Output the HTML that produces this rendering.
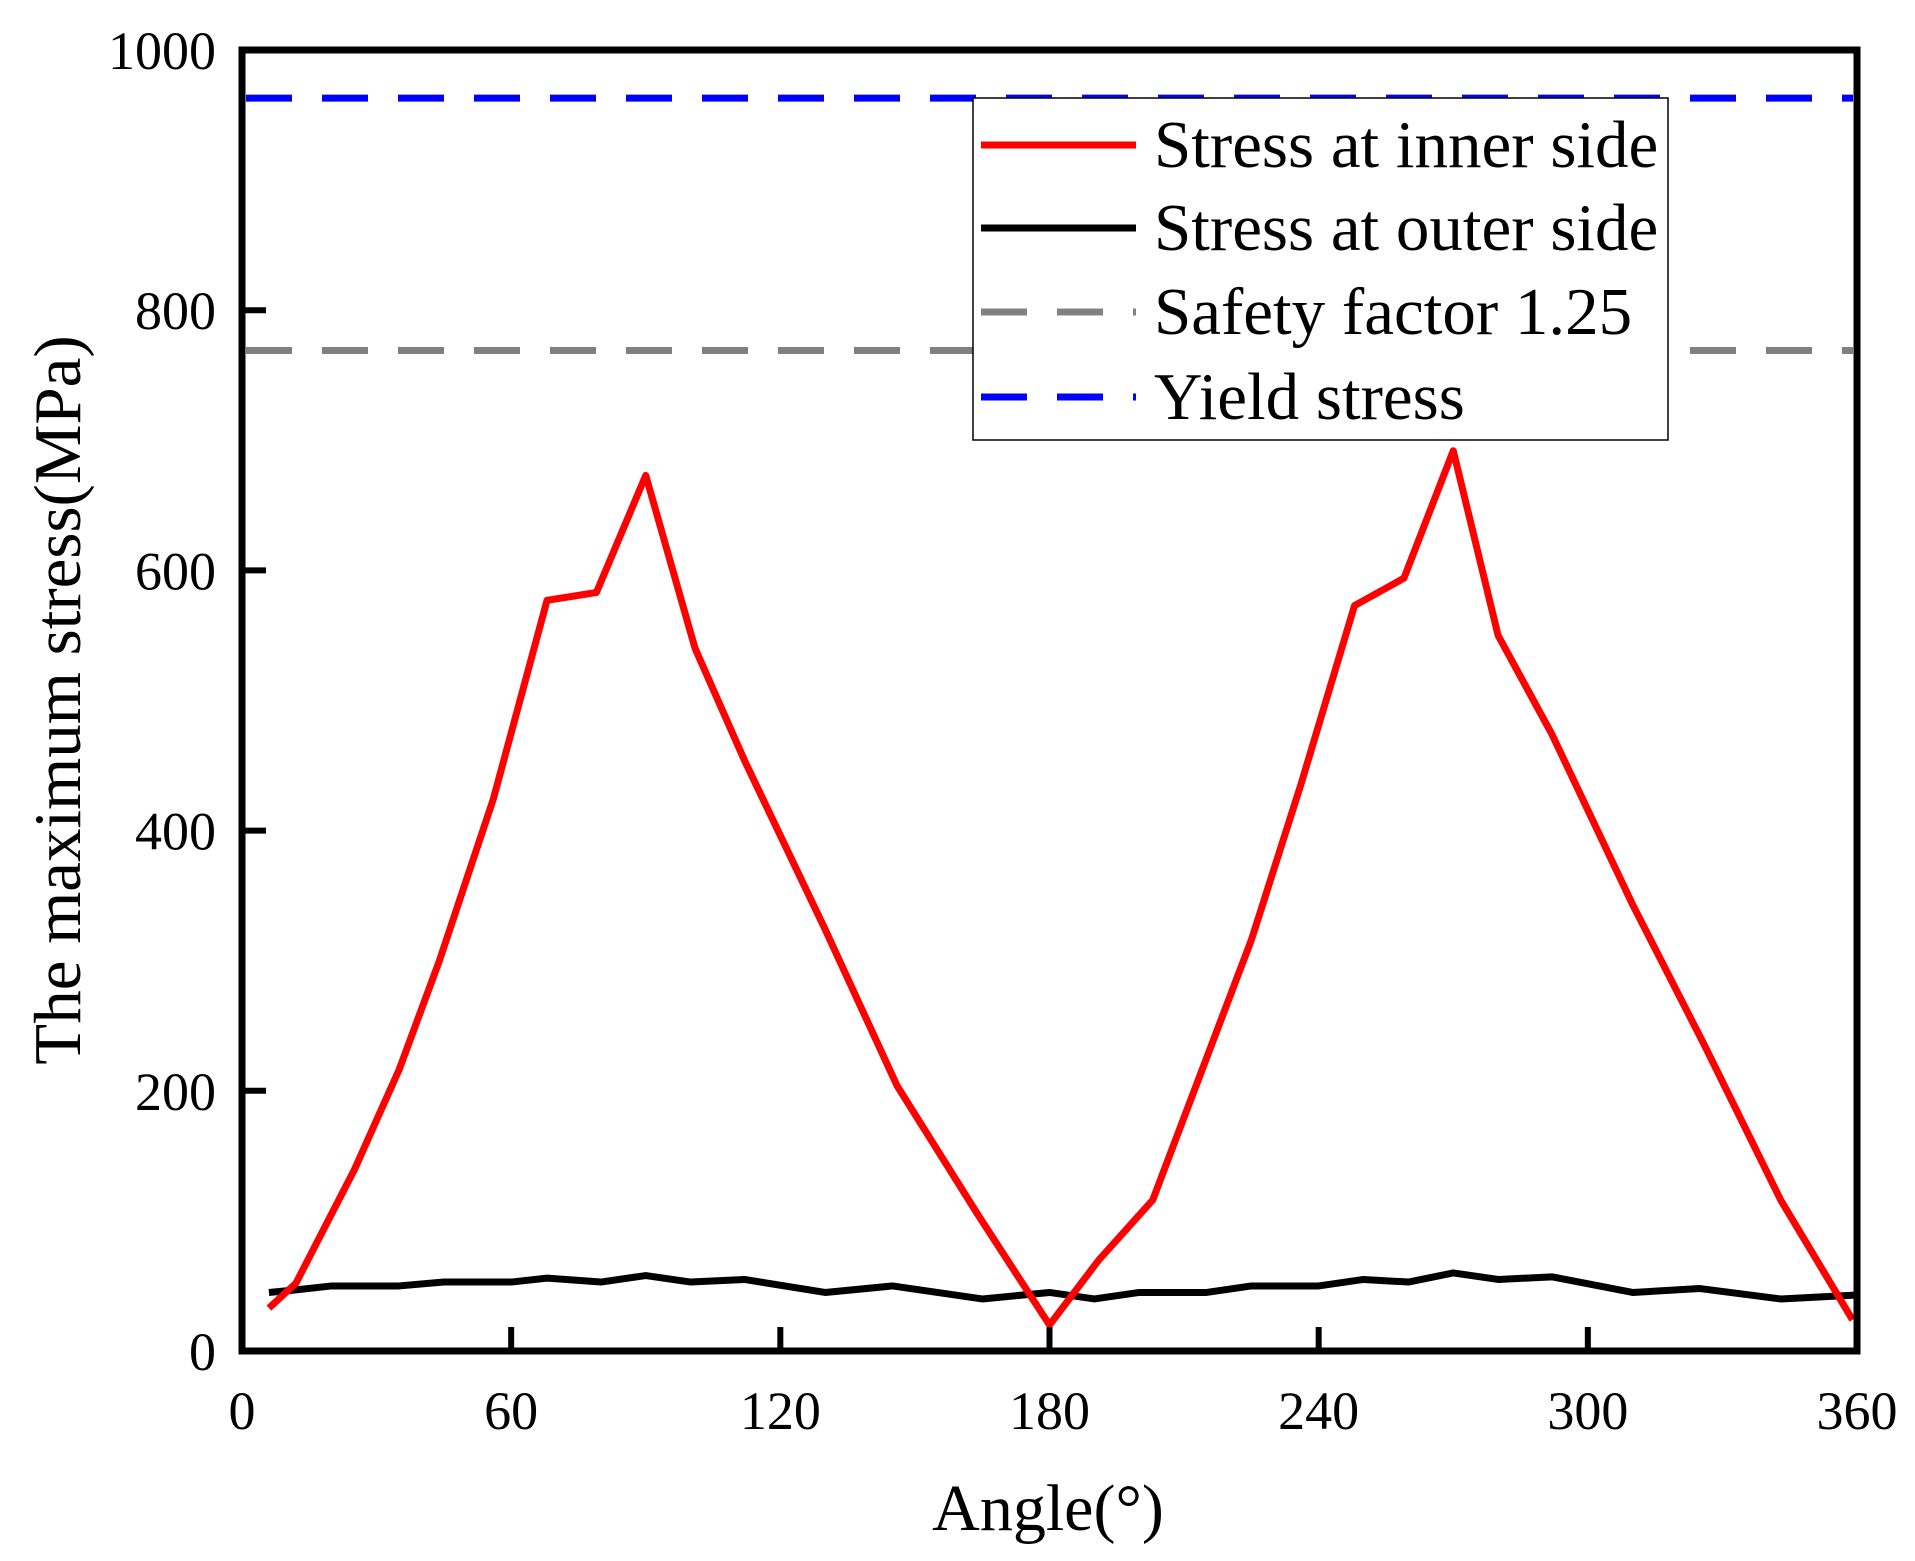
<!DOCTYPE html>
<html><head><meta charset="utf-8"><style>
html,body{margin:0;padding:0;background:#fff;}
svg{display:block;font-family:"Liberation Serif",serif;}
</style></head><body>
<svg id="chart" width="1915" height="1561" viewBox="0 0 1915 1561">
<g id="plot"></g>
</svg>
<script>
const innerAngles=[6,12,25,35,44,56,68,79,90,101,112,130,146,164,180,191,203,214,225,236,248,259,270,280,292,310,326,343,359];
const innerStress=[33,52,139,216,300,424,577,583,673,540,454,324,204,105,20,70,116,216,316,435,573,594,692,550,474,343,235,116,24];
const outerAngles=[6,12,20,35,45,60,68,80,90,100,112,130,145,165,180,190,200,215,225,240,250,260,270,280,292,310,325,343,360];
const outerStress=[45,47,50,50,53,53,56,53,58,53,55,45,50,40,45,40,45,45,50,50,55,53,60,55,57,45,48,40,43];
const yieldStress=963;
const safetyStress=769;
const xTicks=[0,60,120,180,240,300,360];
const yTicks=[0,200,400,600,800,1000];

const L=242,R=1857,T=50,B=1351;
const xs=v=>L+(v-0)/360*(R-L);
const ys=v=>B-(v-0)/1000*(B-T);
const NS="http://www.w3.org/2000/svg";
const g=document.getElementById('plot');
function mk(tag,attrs,parent){const e=document.createElementNS(NS,tag);for(const k in attrs)e.setAttribute(k,attrs[k]);(parent||g).appendChild(e);return e;}

let e;
e=mk('line',{x1:L+4,x2:R-4,y1:ys(yieldStress),y2:ys(yieldStress),stroke:'#0000ff','stroke-width':7,'stroke-dasharray':'46 30'});


e=mk('line',{x1:L+4,x2:R-4,y1:ys(safetyStress),y2:ys(safetyStress),stroke:'#808080','stroke-width':7,'stroke-dasharray':'46 30'});



e=mk('polyline',{points:outerAngles.map((a,i)=>xs(a)+','+ys(outerStress[i])).join(' '),fill:'none',stroke:'#000','stroke-width':7,'stroke-linejoin':'round'});


e=mk('polyline',{points:innerAngles.map((a,i)=>xs(a)+','+ys(innerStress[i])).join(' '),fill:'none',stroke:'#ff0000','stroke-width':7,'stroke-linejoin':'round'});



const lg=mk('g',{});


mk('rect',{x:973,y:98,width:695,height:342,fill:'#fff',stroke:'#000','stroke-width':1.5},lg);
const legItems=[['Stress at inner side','#ff0000',null],['Stress at outer side','#000',null],['Safety factor 1.25','#808080','46 30'],['Yield stress','#0000ff','46 30']];
const legY=[145,228,312,397];
legItems.forEach((it,i)=>{
  const ln=mk('line',{x1:981,x2:1136,y1:legY[i],y2:legY[i],stroke:it[1],'stroke-width':7},lg);
  if(it[2])ln.setAttribute('stroke-dasharray',it[2]);
  
  
  const t=mk('text',{x:1154,y:legY[i]+22,'font-size':67},lg);
  t.textContent=it[0];
  
  
});

e=mk('rect',{x:L,y:T,width:R-L,height:B-T,fill:'none',stroke:'#000','stroke-width':7});



xTicks.forEach(v=>{
  const tk=mk('line',{x1:xs(v),x2:xs(v),y1:B,y2:B-24,stroke:'#000','stroke-width':6});
  
  
  const t=mk('text',{x:xs(v),y:B+78,'font-size':54,'text-anchor':'middle'});
  t.textContent=v;
  
  
});
yTicks.forEach(v=>{
  const tk=mk('line',{x1:L,x2:L+24,y1:ys(v),y2:ys(v),stroke:'#000','stroke-width':6});
  
  
  const t=mk('text',{x:216,y:ys(v)+19,'font-size':54,'text-anchor':'end'});
  t.textContent=v;
  
  
});

e=mk('text',{x:1048,y:1530,'font-size':66,'text-anchor':'middle'});
e.textContent='Angle(°)';


e=mk('text',{x:0,y:0,'font-size':67,'text-anchor':'middle',transform:'translate(80,700) rotate(-90)'});
e.textContent='The maximum stress(MPa)';


</script>
</body></html>
